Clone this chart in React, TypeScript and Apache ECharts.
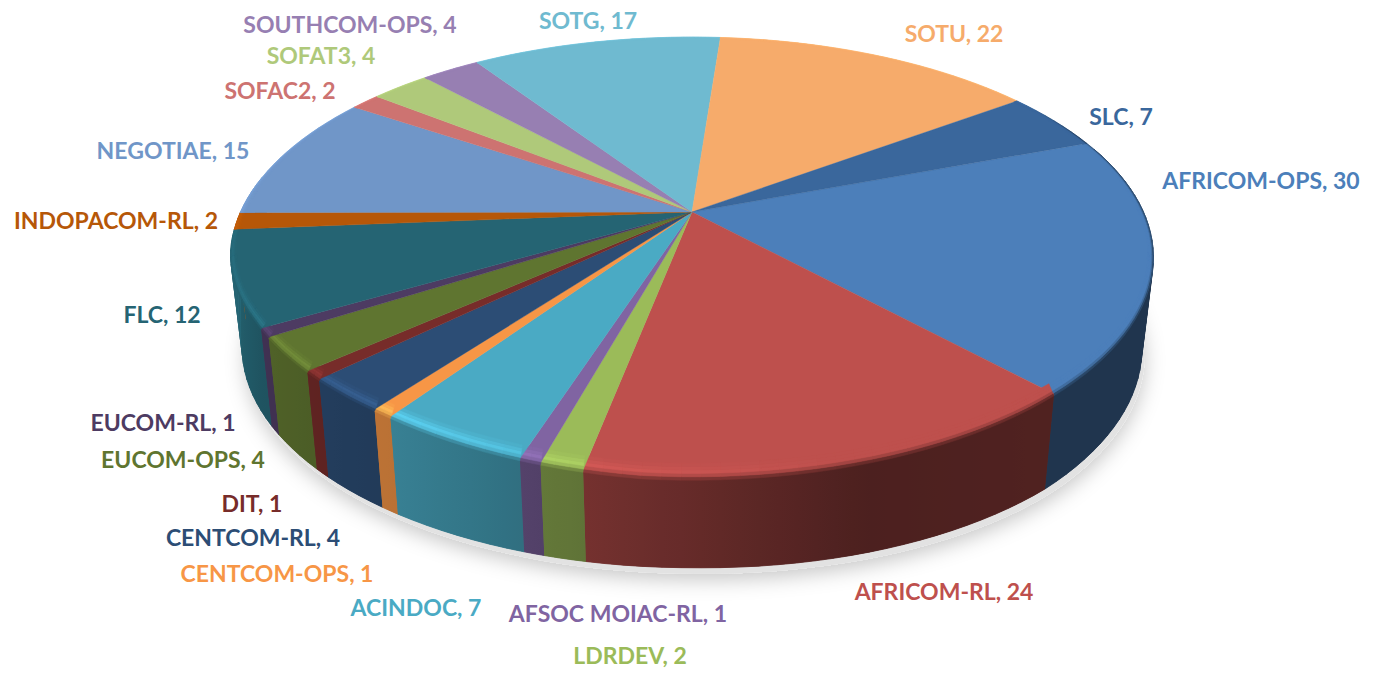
import React, { useEffect, useRef } from "react";
import * as echarts from "echarts";

const names = ["AFRICOM-OPS","AFRICOM-RL","LDRDEV","AFSOC MOIAC-RL","ACINDOC","CENTCOM-OPS","CENTCOM-RL","DIT","EUCOM-OPS","EUCOM-RL","FLC","INDOPACOM-RL","NEGOTIAE","SOFAC2","SOFAT3","SOUTHCOM-OPS","SOTG","SOTU","SLC"];
const values = [30,24,2,1,7,1,4,1,4,1,12,2,15,2,4,4,17,22,7];
const colors = ["#4C7FBA","#BE504D","#9BBB59","#8064A2","#4AAAC4","#F79646","#2C4D75","#772C2A","#5F7530","#4D3B62","#256473","#B65708","#7096C8","#CD7371","#AFC97A","#977FB2","#6FBAD0","#F6AB6B","#3A679C"];
const labelCenters: Record<string, [number, number]> = {
  "AFRICOM-OPS": [1261,180], "SLC": [1121,116], "SOTU": [954,33], "SOTG": [588,20],
  "SOUTHCOM-OPS": [350,24], "SOFAT3": [321,55], "SOFAC2": [280,90], "NEGOTIAE": [173,150],
  "INDOPACOM-RL": [116,220], "FLC": [162,314], "EUCOM-RL": [163,422], "EUCOM-OPS": [183,459],
  "DIT": [252,503], "CENTCOM-RL": [253,537], "CENTCOM-OPS": [277,573], "ACINDOC": [416,607],
  "AFSOC MOIAC-RL": [618,613], "LDRDEV": [630,655], "AFRICOM-RL": [944,591],
};

const total = values.reduce((a, b) => a + b, 0);
const START = -20.4;
const startAngles: number[] = [];
values.reduce((acc, v, i) => { startAngles[i] = START + (acc / total) * 360; return acc + v; }, 0);

const CX = 692, CY = 212, R = 451.5, RS = 211, K = 0.206;
const DEPTH = 90, BOTTOM_SCALE = 0.975;

function norm(deg: number) { return ((deg % 360) + 360) % 360; }
function lerpTable(t: [number, number][], x: number) {
  if (x <= t[0][0]) return t[0][1];
  for (let i = 1; i < t.length; i++) {
    if (x <= t[i][0]) {
      const u = (x - t[i - 1][0]) / (t[i][0] - t[i - 1][0]);
      return t[i - 1][1] + u * (t[i][1] - t[i - 1][1]);
    }
  }
  return t[t.length - 1][1];
}
// small corrections of the projected rim, where the reference's lens differs from the plain projection
const rimLift: [number, number][] = [[0,0],[95,0],[125,-8],[150,-8],[176,0],[360,0]];
const floorDrop: [number, number][] = [[0,0],[47,5],[90,0],[360,0]];
function rim(deg: number, r = 1): [number, number] {
  const a = (deg * Math.PI) / 180;
  const X = Math.cos(a) * r, Y = Math.sin(a) * r;
  const w = 1 - K * Y;
  return [CX + (R * X) / w, CY + (RS * Y) / w + lerpTable(rimLift, norm(deg)) * r];
}
function bottom(deg: number): [number, number] {
  const p = rim(deg);
  const d = norm(deg);
  return [CX + (p[0] - CX) * BOTTOM_SCALE, p[1] + DEPTH - lerpTable(rimLift, d) + lerpTable(floorDrop, d)];
}
// brightness of the wall by rim angle (0..360, measured from the right, clockwise)
const wallShade: [number, number][] = [[0,0.42],[50,0.42],[72,0.40],[102,0.62],[125,0.76],[150,0.84],[178,1.08],[200,1.12],[300,1.1],[325,1.1],[338,0.42],[360,0.42]];
const highlight: [number, number][] = [[0,0],[75,0],[105,0.14],[125,0.28],[150,0.2],[185,0.02],[360,0]];
function rgb(hex: string) { return [1,3,5].map((i) => parseInt(hex.slice(i, i + 2), 16)); }
function shade(c: number[], f: number) { return c.map((v) => Math.min(255, v * f)); }
function mix(a: number[], b: number[], t: number) { return a.map((v, i) => v + (b[i] - v) * t); }
function css(c: number[]) { return `rgb(${c.map((v) => Math.round(v)).join(",")})`; }

function segments(i: number) {
  const a0 = startAngles[i];
  const span = (values[i] / total) * 360;
  const n = Math.max(2, Math.ceil(span / 2));
  return Array.from({ length: n + 1 }, (_, k) => a0 + (span * k) / n);
}

function renderWall(params: any) {
  const i = params.dataIndex;
  const base = rgb(colors[i]);
  const seg = segments(i).filter((d) => { const m = norm(d); return m <= 190 || m >= 340; });
  if (seg.length < 2) return { type: "group", children: [] };
  const xs = seg.map((d) => (rim(d)[0] + bottom(d)[0]) / 2);
  const x0 = Math.min(...xs), x1 = Math.max(...xs);
  const stops = seg
    .map((d, k) => ({ offset: (xs[k] - x0) / Math.max(1, x1 - x0), color: css(shade(base, lerpTable(wallShade, norm(d)))) }))
    .sort((a, b) => a.offset - b.offset);
  const paint = new echarts.graphic.LinearGradient(x0, 0, x1, 0, stops, true);
  const children: any[] = [];
  // swept quads fill the silhouette at the two side tangents
  for (let k = 0; k < seg.length - 1; k++) {
    const mid = (seg[k] + seg[k + 1]) / 2;
    children.push({
      type: "polygon",
      z2: Math.round(100 + 100 * Math.sin((mid * Math.PI) / 180)),
      shape: { points: [rim(seg[k]), rim(seg[k + 1]), bottom(seg[k + 1]), bottom(seg[k])] },
      style: { fill: paint, stroke: paint, lineWidth: 0.8 },
    });
  }
  // one seamless sheet over the quads hides their joins
  const midAll = (seg[0] + seg[seg.length - 1]) / 2;
  children.push({
    type: "polygon",
    z2: Math.round(300 + 100 * Math.sin((midAll * Math.PI) / 180)),
    shape: { points: [...seg.map((d) => rim(d)), ...seg.slice().reverse().map((d) => bottom(d))] },
    style: { fill: paint },
  });
  return { type: "group", children };
}

const SUB = 5;
function bevelPoint(deg: number, s: number): [number, number] {
  const Y = Math.max(0, Math.sin((deg * Math.PI) / 180));
  const p = rim(deg, 1 - 0.012 * s);
  return [p[0], p[1] + (2.5 - s * 13) * Y];
}
function renderFace(params: any) {
  const i = params.dataIndex;
  const base = rgb(colors[i]);
  const seg = segments(i);
  const fill = colors[i];
  const children: any[] = [
    {
      type: "polygon",
      shape: { points: [[CX, CY], ...seg.map((d) => rim(d))] },
      style: { fill, stroke: fill, lineWidth: 0.4 },
    },
  ];
  for (let k = 0; k < seg.length - 1; k++) {
    const mid = norm((seg[k] + seg[k + 1]) / 2);
    const wall = shade(base, lerpTable(wallShade, mid));
    const hi = shade(base, 1 + lerpTable(highlight, mid));
    for (let b = 0; b < SUB; b++) {
      const s0 = b / SUB, s1 = (b + 1) / SUB, sm = (s0 + s1) / 2;
      const c = sm < 0.4 ? mix(wall, hi, sm / 0.4) : mix(hi, base, (sm - 0.4) / 0.6);
      const col = css(c);
      children.push({
        type: "polygon",
        shape: { points: [bevelPoint(seg[k], s0), bevelPoint(seg[k + 1], s0), bevelPoint(seg[k + 1], s1), bevelPoint(seg[k], s1)] },
        style: { fill: col, stroke: col, lineWidth: 0.5 },
      });
    }
  }
  return { type: "group", children };
}
function renderShadow() {
  const pts = Array.from({ length: 181 }, (_, k) => {
    const p = bottom(k * 2);
    return [p[0] + 3, p[1] + 6] as [number, number];
  });
  return {
    type: "polygon",
    shape: { points: pts },
    style: { fill: "#e2e2e2", shadowBlur: 20, shadowColor: "rgba(0,0,0,0.22)", shadowOffsetY: 6 },
  };
}
function renderLabel(params: any, api: any) {
  const i = params.dataIndex;
  const [x, y] = labelCenters[names[i]];
  return {
    type: "text",
    style: {
      x, y,
      text: `${names[i]}, ${api.value(0)}`,
      fill: colors[i],
      fontFamily: "Lato",
      fontWeight: "bold",
      fontSize: 23,
      align: "center",
      verticalAlign: "middle",
    },
  };
}

const seriesData = names.map((name, i) => ({ name, value: values[i] }));

export default function App() {
  const ref = useRef<HTMLDivElement>(null);
  useEffect(() => {
    const chart = echarts.init(ref.current!, undefined, { renderer: "svg" });
    chart.setOption({
      animation: false,
      backgroundColor: "#fff",
      series: [
        { type: "custom", coordinateSystem: "none", silent: true, z: 1, data: [1], renderItem: renderShadow },
        { type: "custom", coordinateSystem: "none", silent: true, z: 2, data: seriesData, renderItem: renderWall },
        { type: "custom", coordinateSystem: "none", silent: true, z: 3, data: seriesData, renderItem: renderFace },
        { type: "custom", coordinateSystem: "none", silent: true, z: 4, data: seriesData, renderItem: renderLabel },
      ],
    });
    return () => chart.dispose();
  }, []);
  return <div ref={ref} style={{ position: "fixed", left: 0, top: 0, width: 1381, height: 673 }} />;
}
